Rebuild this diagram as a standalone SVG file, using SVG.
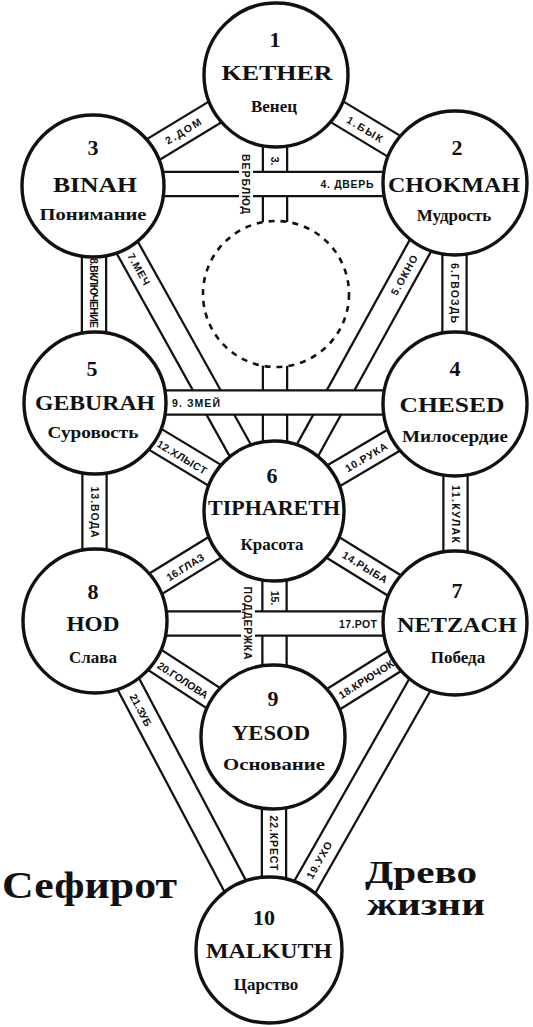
<svg xmlns="http://www.w3.org/2000/svg" width="533" height="1027" viewBox="0 0 533 1027">
<style>
.bo{stroke:#111;stroke-width:26.5;fill:none}
.bi{stroke:#fff;stroke-width:22;fill:none}
.c{fill:#fff;stroke:#111;stroke-width:3.4}
.daath{fill:#fff;stroke:#111;stroke-width:2.6;stroke-dasharray:6 6}
.num{font-family:"Liberation Serif",serif;font-weight:bold;font-size:22px;text-anchor:middle;fill:#111}
.name{font-family:"Liberation Serif",serif;font-weight:bold;font-size:21px;text-anchor:middle;fill:#111}
.ru{font-family:"Liberation Serif",serif;font-weight:bold;font-size:17px;text-anchor:middle;fill:#111}
.lb{font-family:"Liberation Sans",sans-serif;font-weight:bold;font-size:10.5px;text-anchor:middle;dominant-baseline:central;fill:#111}
.ttl{font-family:"Liberation Serif",serif;font-weight:bold;fill:#111}
.bg{fill:#fff}
</style>
<rect width="533" height="1027" fill="#fff"/>
<g id="connectors">
  <line class="bo" x1="276" y1="75" x2="455" y2="183"/><line class="bi" x1="276" y1="75" x2="455" y2="183"/>
  <line class="bo" x1="276" y1="75" x2="93" y2="186"/><line class="bi" x1="276" y1="75" x2="93" y2="186"/>
  <line class="bo" x1="275" y1="75" x2="275" y2="511"/><line class="bi" x1="275" y1="75" x2="275" y2="511"/>
  <line class="bo" x1="455" y1="183" x2="274" y2="511"/><line class="bi" x1="455" y1="183" x2="274" y2="511"/>
  <line class="bo" x1="454.5" y1="183" x2="454.5" y2="404"/><line class="bi" x1="454.5" y1="183" x2="454.5" y2="404"/>
  <line class="bo" x1="93" y1="186" x2="274" y2="511"/><line class="bi" x1="93" y1="186" x2="274" y2="511"/>
  <line class="bo" x1="94" y1="186" x2="94" y2="403"/><line class="bi" x1="94" y1="186" x2="94" y2="403"/>
  <line class="bo" x1="455" y1="404" x2="274" y2="511"/><line class="bi" x1="455" y1="404" x2="274" y2="511"/>
  <line class="bo" x1="455.5" y1="404" x2="455.5" y2="623"/><line class="bi" x1="455.5" y1="404" x2="455.5" y2="623"/>
  <line class="bo" x1="95" y1="403" x2="274" y2="511"/><line class="bi" x1="95" y1="403" x2="274" y2="511"/>
  <line class="bo" x1="94.5" y1="403" x2="94.5" y2="621"/><line class="bi" x1="94.5" y1="403" x2="94.5" y2="621"/>
  <line class="bo" x1="274" y1="511" x2="455" y2="623"/><line class="bi" x1="274" y1="511" x2="455" y2="623"/>
  <line class="bo" x1="274.5" y1="511" x2="274.5" y2="737"/><line class="bi" x1="274.5" y1="511" x2="274.5" y2="737"/>
  <line class="bo" x1="274" y1="511" x2="95" y2="621"/><line class="bi" x1="274" y1="511" x2="95" y2="621"/>
  <line class="bo" x1="455" y1="623" x2="273" y2="737"/><line class="bi" x1="455" y1="623" x2="273" y2="737"/>
  <line class="bo" x1="455" y1="623" x2="269" y2="950"/><line class="bi" x1="455" y1="623" x2="269" y2="950"/>
  <line class="bo" x1="95" y1="621" x2="273" y2="737"/><line class="bi" x1="95" y1="621" x2="273" y2="737"/>
  <line class="bo" x1="95" y1="621" x2="269" y2="950"/><line class="bi" x1="95" y1="621" x2="269" y2="950"/>
  <line class="bo" x1="274" y1="737" x2="274" y2="950"/><line class="bi" x1="274" y1="737" x2="274" y2="950"/>
  <line class="bo" x1="93" y1="184" x2="455" y2="184"/><line class="bi" x1="93" y1="184" x2="455" y2="184"/>
  <line class="bo" x1="95" y1="402.5" x2="455" y2="402.5"/><line class="bi" x1="95" y1="402.5" x2="455" y2="402.5"/>
  <line class="bo" x1="95" y1="623.5" x2="455" y2="623.5"/><line class="bi" x1="95" y1="623.5" x2="455" y2="623.5"/>
  <rect class="bg" x="239" y="152" width="14" height="64"/>
  <rect class="bg" x="241" y="585" width="14" height="77"/>
  <text class="lb" transform="translate(365,129) rotate(31.1)" textLength="40">1.БЫК</text>
  <text class="lb" transform="translate(183,131) rotate(-31.2)" textLength="40">2.ДОМ</text>
  <text class="lb" transform="translate(275,161) rotate(90)" font-size="10">3.</text>
  <text class="lb" transform="translate(246,184) rotate(90)" textLength="60" font-size="11.5">ВЕРБЛЮД</text>
  <text class="lb" x="347" y="184" textLength="53">4. ДВЕРЬ</text>
  <text class="lb" transform="translate(404,275) rotate(-61.1)" textLength="44">5.ОКНО</text>
  <text class="lb" transform="translate(454.5,293) rotate(90)" textLength="60">6.ГВОЗДЬ</text>
  <text class="lb" transform="translate(139,269) rotate(60.9)" textLength="35">7.МЕЧ</text>
  <text class="lb" transform="translate(94,293) rotate(90)" textLength="70" font-size="9">8.ВКЛЮЧЕНИЕ</text>
  <text class="lb" x="196" y="402.5" textLength="48">9. ЗМЕЙ</text>
  <text class="lb" transform="translate(366,457) rotate(-30.6)" textLength="47">10.РУКА</text>
  <text class="lb" transform="translate(455.5,514) rotate(90)" textLength="58">11.КУЛАК</text>
  <text class="lb" transform="translate(182,457) rotate(31.1)" textLength="56">12.ХЛЫСТ</text>
  <text class="lb" transform="translate(94.5,512) rotate(90)" textLength="51">13.ВОДА</text>
  <text class="lb" transform="translate(365,567) rotate(31.7)" textLength="51">14.РЫБА</text>
  <text class="lb" transform="translate(274.5,598) rotate(90)" font-size="10">15.</text>
  <text class="lb" transform="translate(248,623) rotate(90)" textLength="73" font-size="11">ПОДДЕРЖКА</text>
  <text class="lb" transform="translate(185,567) rotate(-31.6)" textLength="42">16.ГЛАЗ</text>
  <text class="lb" x="358" y="623.5" textLength="38">17.РОТ</text>
  <text class="lb" transform="translate(366,679) rotate(-32.1)" textLength="63">18.КРЮЧОК</text>
  <text class="lb" transform="translate(319,860) rotate(-60.4)" textLength="41">19.УХО</text>
  <text class="lb" transform="translate(183,680) rotate(33.1)" textLength="58">20.ГОЛОВА</text>
  <text class="lb" transform="translate(141,710) rotate(62.1)" textLength="35">21.ЗУБ</text>
  <text class="lb" transform="translate(274,843) rotate(90)" textLength="55">22.КРЕСТ</text>
</g>
<g id="daath">
  <circle class="daath" cx="276" cy="294" r="73"/>
</g>
<g id="node-1-kether">
  <circle class="c" cx="276" cy="75" r="72"/>
  <text class="num" x="275" y="47">1</text>
  <text class="name" x="277" y="80" textLength="111" lengthAdjust="spacingAndGlyphs">KETHER</text>
  <text class="ru" x="274" y="112">Венец</text>
</g>
<g id="node-2-chokmah">
  <circle class="c" cx="455" cy="183" r="72"/>
  <text class="num" x="457" y="155">2</text>
  <text class="name" x="454" y="192" textLength="132" lengthAdjust="spacingAndGlyphs">CHOKMAH</text>
  <text class="ru" x="454" y="221">Мудрость</text>
</g>
<g id="node-3-binah">
  <circle class="c" cx="93" cy="186" r="71"/>
  <text class="num" x="93" y="155">3</text>
  <text class="name" x="95" y="192" textLength="84" lengthAdjust="spacingAndGlyphs">BINAH</text>
  <text class="ru" x="93" y="220" textLength="107" lengthAdjust="spacingAndGlyphs">Понимание</text>
</g>
<g id="node-4-chesed">
  <circle class="c" cx="455" cy="404" r="72"/>
  <text class="num" x="455" y="376">4</text>
  <text class="name" x="452" y="412" textLength="105" lengthAdjust="spacingAndGlyphs">CHESED</text>
  <text class="ru" x="455" y="442" textLength="106" lengthAdjust="spacingAndGlyphs">Милосердие</text>
</g>
<g id="node-5-geburah">
  <circle class="c" cx="95" cy="403" r="71"/>
  <text class="num" x="92" y="376">5</text>
  <text class="name" x="95" y="410" textLength="120" lengthAdjust="spacingAndGlyphs">GEBURAH</text>
  <text class="ru" x="93" y="438" textLength="91" lengthAdjust="spacingAndGlyphs">Суровость</text>
</g>
<g id="node-6-tiphareth">
  <circle class="c" cx="274" cy="511" r="70"/>
  <text class="num" x="272" y="483">6</text>
  <text class="name" x="274" y="515" textLength="132" lengthAdjust="spacingAndGlyphs">TIPHARETH</text>
  <text class="ru" x="272" y="550">Красота</text>
</g>
<g id="node-7-netzach">
  <circle class="c" cx="455" cy="623" r="72"/>
  <text class="num" x="457" y="598">7</text>
  <text class="name" x="457" y="632" textLength="120" lengthAdjust="spacingAndGlyphs">NETZACH</text>
  <text class="ru" x="458" y="663">Победа</text>
</g>
<g id="node-8-hod">
  <circle class="c" cx="95" cy="621" r="72"/>
  <text class="num" x="93" y="599">8</text>
  <text class="name" x="93" y="631" textLength="53" lengthAdjust="spacingAndGlyphs">HOD</text>
  <text class="ru" x="93" y="663">Слава</text>
</g>
<g id="node-9-yesod">
  <circle class="c" cx="273" cy="737" r="72"/>
  <text class="num" x="273" y="706">9</text>
  <text class="name" x="271" y="740" textLength="78" lengthAdjust="spacingAndGlyphs">YESOD</text>
  <text class="ru" x="274" y="770" textLength="102" lengthAdjust="spacingAndGlyphs">Основание</text>
</g>
<g id="node-10-malkuth">
  <circle class="c" cx="269" cy="950" r="73"/>
  <text class="num" x="264" y="925">10</text>
  <text class="name" x="269" y="958" textLength="126" lengthAdjust="spacingAndGlyphs">MALKUTH</text>
  <text class="ru" x="266" y="990">Царство</text>
</g>
<g id="title">
  <text class="ttl" x="2" y="898" font-size="37" textLength="175" lengthAdjust="spacingAndGlyphs">Сефирот</text>
  <text class="ttl" x="365" y="883" font-size="31" textLength="112" lengthAdjust="spacingAndGlyphs">Древо</text>
  <text class="ttl" x="367" y="915" font-size="31" textLength="118" lengthAdjust="spacingAndGlyphs">жизни</text>
</g>
</svg>
